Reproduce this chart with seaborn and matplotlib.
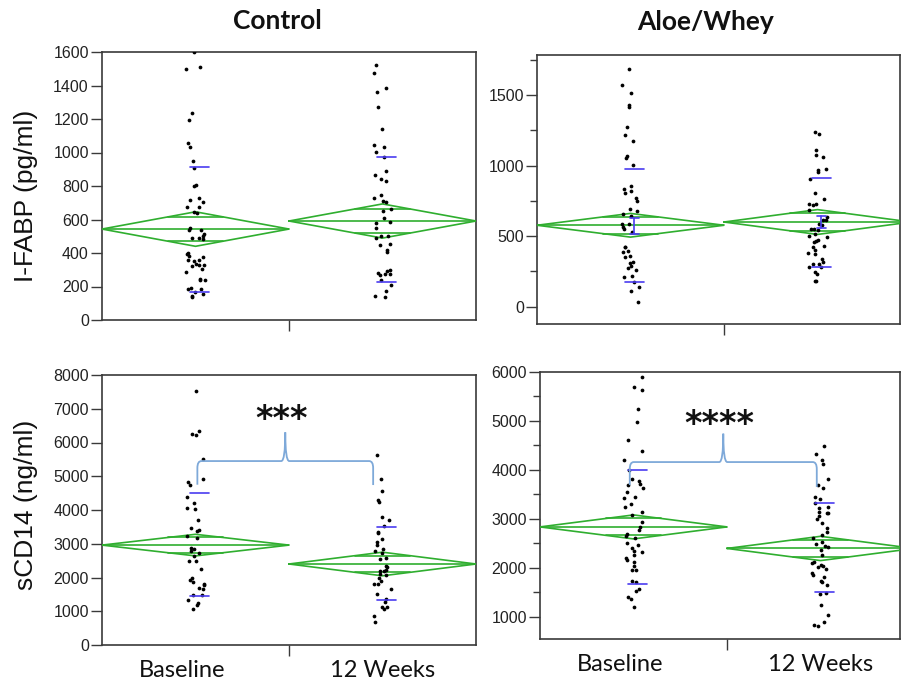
import numpy as np
import pandas as pd
import matplotlib
matplotlib.use("Agg")
import matplotlib.pyplot as plt
import seaborn as sns
from matplotlib.path import Path
from matplotlib.patches import PathPatch
from matplotlib.ticker import FixedLocator
from matplotlib.transforms import ScaledTranslation

# ---------------- data ----------------
groups = ["Baseline", "12 Weeks"]
col_titles = ["Control", "Aloe/Whey"]
row_labels = ["I-FABP (pg/ml)", "sCD14 (ng/ml)"]

ifabp_ctrl_base = [1600, 1512, 1497, 1238, 1194, 1059, 1031, 951, 909, 805, 800, 726, 716, 703,
                   677, 677, 643, 638, 537, 547, 535, 511, 491, 488, 501, 485, 398, 392, 380, 376,
                   358, 352, 328, 332, 358, 320, 326, 302, 284, 242, 238, 239, 189, 183, 185, 165,
                   153, 143, 137]
ifabp_ctrl_12w = [1522, 1476, 1383, 1363, 1272, 1138, 1045, 1035, 1001, 971, 890, 866, 842, 830,
                  746, 730, 710, 702, 651, 661, 611, 587, 577, 551, 501, 501, 488, 452, 445, 408,
                  420, 299, 275, 295, 270, 280, 275, 239, 209, 175, 136, 146]
ifabp_aloe_base = [1682, 1568, 1514, 1428, 1412, 1275, 1215, 1173, 1069, 1057, 1004, 853, 836, 822,
                   806, 770, 749, 694, 676, 660, 642, 583, 588, 564, 550, 528, 426, 386, 421, 398,
                   362, 355, 320, 310, 291, 272, 258, 215, 208, 173, 142, 114, 36]
ifabp_aloe_12w = [1239, 1222, 1109, 1078, 1062, 952, 979, 967, 907, 808, 765, 730, 726, 722, 682,
                  635, 616, 612, 583, 576, 553, 553, 541, 517, 500, 493, 464, 474, 457, 422, 403,
                  431, 339, 370, 379, 315, 299, 299, 280, 280, 244, 232, 185, 185]
scd14_ctrl_base = [7520, 6350, 6250, 6230, 5525, 4910, 4840, 4730, 4385, 4195, 4070, 4020, 3690,
                   3470, 3420, 3370, 3225, 3170, 2880, 2830, 2780, 2730, 2630, 2480, 2500, 2250,
                   2000, 1930, 1860, 1805, 1770, 1690, 1660, 1470, 1490, 1340, 1240, 1190, 1070]
scd14_ctrl_12w = [5635, 4910, 4550, 4295, 4240, 3800, 3700, 3520, 3325, 3350, 3155, 3055, 2970,
                  2850, 2780, 2730, 2560, 2580, 2300, 2350, 2230, 2180, 2080, 2100, 2180, 1980,
                  1885, 1805, 1805, 1655, 1520, 1360, 1270, 1140, 1120, 1070, 870, 685]
scd14_aloe_base = [5898, 5694, 5627, 5239, 4980, 4620, 4382, 4198, 4008, 3824, 3770, 3688, 3720,
                   3620, 3551, 3449, 3420, 3294, 3245, 3143, 3075, 2939, 2769, 2837, 2681, 2654,
                   2600, 2497, 2464, 2395, 2341, 2330, 2259, 2191, 2157, 2041, 2123, 1953, 1953,
                   1714, 1735, 1531, 1571, 1408, 1354, 1191]
scd14_aloe_12w = [4484, 4320, 4212, 4130, 3804, 3688, 3634, 3449, 3415, 3314, 3232, 3212, 3125,
                  3139, 3125, 3055, 3000, 2906, 2803, 2722, 2667, 2599, 2531, 2483, 2442, 2428,
                  2360, 2259, 2089, 2055, 2123, 2035, 2007, 1966, 1898, 1850, 1803, 1735, 1714,
                  1646, 1463, 1476, 1238, 1034, 898, 830, 810]

# means diamonds: group mean, 95% CI half-height, std-dev lines, std-error bars
ifabp_ctrl_mean = [543, 591]
ifabp_ctrl_ci = [103, 102]
ifabp_ctrl_sd = [(169, 912), (225, 971)]
ifabp_aloe_mean = [577, 600]
ifabp_aloe_ci = [84, 88]
ifabp_aloe_sd = [(178, 979), (284, 915)]
ifabp_aloe_se = [(517, 628), (558, 640)]
scd14_ctrl_mean = [2960, 2400]
scd14_ctrl_ci = [320, 350]
scd14_ctrl_sd = [(1440, 4515), (1320, 3500)]
scd14_aloe_mean = [2835, 2395]
scd14_aloe_ci = [245, 248]
scd14_aloe_sd = [(1661, 3994), (1497, 3314)]

# significance brackets: (left end, right end) heights, bar height, peak height, label
ctrl_bracket = dict(ends=(4750, 4740), bar=5450, peak=6300, label="***", label_y=6960)
aloe_bracket = dict(ends=(3690, 3650), bar=4160, peak=4740, label="****", label_y=5120)

# ---------------- style ----------------
sns.set_theme(style="white")
plt.rcParams["font.family"] = ["Liberation Sans", "DejaVu Sans"]

GREEN = "#2fae2f"
BLUE = "#4a3cf0"
BRACE = "#7ea9d9"
SPINE = "#3a3a3a"

fig = plt.figure(figsize=(9.02, 6.80), dpi=100)
W, H = 902.0, 680.0


def add_axes(x0, y0, x1, y1):
    return fig.add_axes([x0 / W, 1 - y1 / H, (x1 - x0) / W, (y1 - y0) / H])


def draw_panel(ax, base, wk12, means, ci, sd, ylim, yticks, minor=None, se=None,
               xmax=1.5, seed=0, xlabels=False):
    df = pd.DataFrame({"time": [groups[0]] * len(base) + [groups[1]] * len(wk12),
                       "value": list(base) + list(wk12)})
    np.random.seed(seed)
    sns.stripplot(data=df, x="time", y="value", order=groups, color="black", size=2.7,
                  jitter=0.05, linewidth=0, ax=ax, zorder=4)
    w = 0.5 * (1 - 1 / np.sqrt(2))
    for i, (m, h) in enumerate(zip(means, ci)):
        ax.plot([i - 0.5, i, i + 0.5, i, i - 0.5], [m, m + h, m, m - h, m],
                color=GREEN, lw=1.2, zorder=3, solid_joinstyle="miter")
        ax.plot([i - 0.5, i + 0.5], [m, m], color=GREEN, lw=1.2, zorder=3)
        d = h / np.sqrt(2)
        for yy in (m + d, m - d):
            ax.plot([i - w, i + w], [yy, yy], color=GREEN, lw=1.2, zorder=3)
        lo, hi = sd[i]
        for yy in (lo, hi):
            ax.plot([i - 0.03, i + 0.07], [yy, yy], color=BLUE, lw=1.2, zorder=5)
        if se is not None:
            slo, shi = se[i]
            xc = i + 0.02
            ax.plot([xc, xc], [slo, shi], color=BLUE, lw=1.2, zorder=5)
            for yy in (slo, shi):
                ax.plot([xc - 0.025, xc + 0.025], [yy, yy], color=BLUE, lw=1.2, zorder=5)
    ax.set_xlim(-0.5, xmax)
    ax.set_ylim(*ylim)
    ax.set_xlabel("")
    ax.set_ylabel("")
    ax.yaxis.set_major_locator(FixedLocator(yticks))
    ax.set_yticklabels([str(t) for t in yticks])
    if minor is not None:
        ax.yaxis.set_minor_locator(FixedLocator(minor))
    ax.tick_params(axis="y", which="major", direction="out", length=8, width=1.0,
                   color=SPINE, labelsize=11.5, pad=1.5, labelcolor="#222222", left=True)
    ax.tick_params(axis="y", which="minor", direction="out", length=5, width=1.0,
                   color=SPINE, left=True)
    # single divider tick between the groups, labels under groups
    ax.xaxis.set_major_locator(FixedLocator([0.5]))
    ax.set_xticklabels([""])
    ax.tick_params(axis="x", which="major", direction="out", length=8, width=1.0,
                   color=SPINE, bottom=True)
    if xlabels:
        ax.xaxis.set_minor_locator(FixedLocator([-0.07, 1.0]))
        ax.xaxis.set_minor_formatter(plt.FixedFormatter(groups))
        ax.tick_params(axis="x", which="minor", length=0, pad=11, labelsize=17,
                       labelcolor="#111111")
        for lab in ax.get_xticklabels(minor=True):
            lab.set_fontfamily(["Lato", "DejaVu Sans"])
    for s in ax.spines.values():
        s.set_visible(True)
        s.set_color(SPINE)
        s.set_linewidth(1.2)


def draw_brace(ax, x0, x1, br):
    fig.canvas.draw()
    bbox = ax.get_window_extent()
    y0, y1 = ax.get_ylim()
    xa, xb = ax.get_xlim()
    ppu_y = bbox.height / (y1 - y0)
    ppu_x = bbox.width / (xb - xa)
    ry = 7 / ppu_y
    rx = 4 / ppu_x
    rp = 4 / ppu_x
    yl, yr = br["ends"]
    yb, yp = br["bar"], br["peak"]
    xm = (x0 + x1) / 2
    verts = [(x0, yl), (x0, yb - ry), (x0, yb), (x0 + rx, yb),
             (xm - rp, yb), (xm, yb), (xm, yp),
             (xm, yb), (xm + rp, yb),
             (x1 - rx, yb), (x1, yb), (x1, yb - ry), (x1, yr)]
    codes = [Path.MOVETO, Path.LINETO, Path.CURVE3, Path.CURVE3,
             Path.LINETO, Path.CURVE3, Path.CURVE3,
             Path.CURVE3, Path.CURVE3,
             Path.LINETO, Path.CURVE3, Path.CURVE3, Path.LINETO]
    ax.add_patch(PathPatch(Path(verts, codes), facecolor="none", edgecolor=BRACE,
                           lw=1.3, zorder=6))
    off = ScaledTranslation(0, -0.19, fig.dpi_scale_trans)
    ax.text(xm - 0.02, br["label_y"], br["label"], ha="center", va="baseline",
            fontsize=24, fontweight="bold", family=["DejaVu Sans"], color="#111111",
            transform=ax.transData + off, zorder=7)


ax1 = add_axes(102, 52, 476, 320)
draw_panel(ax1, ifabp_ctrl_base, ifabp_ctrl_12w, ifabp_ctrl_mean, ifabp_ctrl_ci, ifabp_ctrl_sd,
           ylim=(0, 1600), yticks=list(range(0, 1601, 200)), seed=1)

ax2 = add_axes(537, 55, 900, 324)
draw_panel(ax2, ifabp_aloe_base, ifabp_aloe_12w, ifabp_aloe_mean, ifabp_aloe_ci, ifabp_aloe_sd,
           ylim=(-123, 1784), yticks=[0, 500, 1000, 1500], minor=[250, 750, 1250, 1750],
           se=ifabp_aloe_se, xmax=1.441, seed=2)

ax3 = add_axes(102, 375, 476, 645)
draw_panel(ax3, scd14_ctrl_base, scd14_ctrl_12w, scd14_ctrl_mean, scd14_ctrl_ci, scd14_ctrl_sd,
           ylim=(0, 8000), yticks=list(range(0, 8001, 1000)), seed=3, xlabels=True)

ax4 = add_axes(540, 372, 900, 639)
draw_panel(ax4, scd14_aloe_base, scd14_aloe_12w, scd14_aloe_mean, scd14_aloe_ci, scd14_aloe_sd,
           ylim=(545, 6000), yticks=list(range(1000, 6001, 1000)),
           minor=[1500, 2500, 3500, 4500, 5500], xmax=1.425, seed=4, xlabels=True)

draw_brace(ax3, 0.01, 0.95, ctrl_bracket)
draw_brace(ax4, -0.02, 0.98, aloe_bracket)

# column titles and row labels
fig.text(277 / W, 1 - 21 / H, col_titles[0], ha="center", va="center", fontsize=19,
         fontweight="bold", family=["Lato", "DejaVu Sans"], color="#111111")
fig.text(706 / W, 1 - 22 / H, col_titles[1], ha="center", va="center", fontsize=19,
         fontweight="bold", family=["Lato", "DejaVu Sans"], color="#111111")
fig.text(26 / W, 1 - 196 / H, row_labels[0], ha="center", va="center", rotation=90,
         fontsize=19, color="#111111")
fig.text(26 / W, 1 - 505 / H, row_labels[1], ha="center", va="center", rotation=90,
         fontsize=19, color="#111111")

fig.savefig("out.png", dpi=100, facecolor="white")
